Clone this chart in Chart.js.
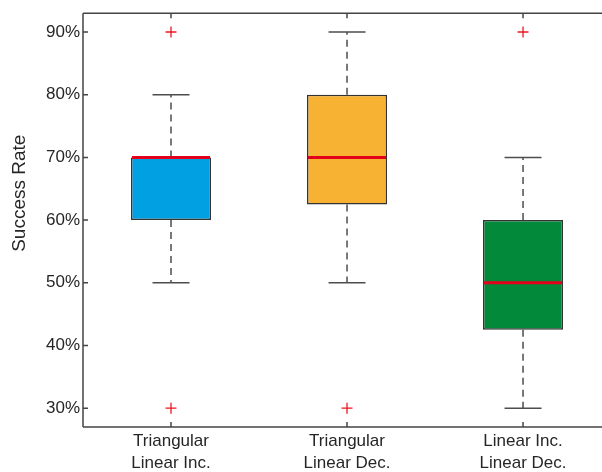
<!DOCTYPE html>
<html>
<head>
<meta charset="utf-8">
<script src="https://cdn.jsdelivr.net/npm/chart.js@4.4.0/dist/chart.umd.min.js"></script>
<style>
  html, body { margin: 0; padding: 0; background: #fff; }
  #wrap { width: 602px; height: 472px; }
</style>
</head>
<body>
<div id="wrap"><canvas id="boxChart" width="602" height="472"></canvas></div>
<script>
// box plot data (success rate in %)
const categories = [["Triangular", "Linear Inc."], ["Triangular", "Linear Dec."], ["Linear Inc.", "Linear Dec."]];
const whiskerLow = [50, 50, 30];
const q1 = [60, 62.5, 42.5];
const median = [70, 70, 50];
const q3 = [70, 80, 60];
const whiskerHigh = [80, 90, 70];
const outliers = [[90, 30], [30], [90]];
const boxColors = ["#00a0e2", "#f8b233", "#02893a"];
const yTicks = [30, 40, 50, 60, 70, 80, 90];

const axisColor = "#444444";
const textColor = "#262626";

let outlierPoints = [];
outliers.forEach((list, i) => {
  list.forEach((v) => outlierPoints.push({ x: i + 1, y: v }));
});

// whiskers, caps, medians and the axes frame
const boxExtras = {
  id: "boxExtras",
  beforeDatasetsDraw(chart) {
    const { ctx } = chart;
    const xs = chart.scales.x, ys = chart.scales.y;
    ctx.save();
    categories.forEach((c, i) => {
      const cx = xs.getPixelForValue(i + 1);
      const capL = xs.getPixelForValue(i + 1 - 0.105);
      const capR = xs.getPixelForValue(i + 1 + 0.105);
      ctx.strokeStyle = "#4d4d4d";
      ctx.lineWidth = 1.5;
      ctx.setLineDash([7, 5]);
      ctx.beginPath();
      ctx.moveTo(cx, ys.getPixelForValue(q3[i]));
      ctx.lineTo(cx, ys.getPixelForValue(whiskerHigh[i]));
      ctx.moveTo(cx, ys.getPixelForValue(q1[i]));
      ctx.lineTo(cx, ys.getPixelForValue(whiskerLow[i]));
      ctx.stroke();
      ctx.setLineDash([]);
      ctx.beginPath();
      ctx.moveTo(capL, ys.getPixelForValue(whiskerHigh[i]));
      ctx.lineTo(capR, ys.getPixelForValue(whiskerHigh[i]));
      ctx.moveTo(capL, ys.getPixelForValue(whiskerLow[i]));
      ctx.lineTo(capR, ys.getPixelForValue(whiskerLow[i]));
      ctx.stroke();
    });
    ctx.restore();
  },
  afterDatasetsDraw(chart) {
    const { ctx, chartArea } = chart;
    const xs = chart.scales.x, ys = chart.scales.y;
    const meta = chart.getDatasetMeta(0);
    ctx.save();
    // medians
    meta.data.forEach((bar, i) => {
      const y = ys.getPixelForValue(median[i]);
      ctx.strokeStyle = "#e2001a";
      ctx.lineWidth = 3;
      ctx.beginPath();
      ctx.moveTo(bar.x - bar.width / 2 + 1, y);
      ctx.lineTo(bar.x + bar.width / 2 - 1, y);
      ctx.stroke();
    });
    // frame (the right side of the axes box is cut off in the original)
    const right = chart.width;
    ctx.strokeStyle = axisColor;
    ctx.lineWidth = 1.5;
    ctx.beginPath();
    ctx.moveTo(chartArea.left, chartArea.top);
    ctx.lineTo(right, chartArea.top);
    ctx.moveTo(chartArea.left, chartArea.bottom);
    ctx.lineTo(right, chartArea.bottom);
    ctx.moveTo(chartArea.left, chartArea.top);
    ctx.lineTo(chartArea.left, chartArea.bottom);
    // inside tick marks
    yTicks.forEach((t) => {
      const y = ys.getPixelForValue(t);
      ctx.moveTo(chartArea.left, y);
      ctx.lineTo(chartArea.left + 5, y);
    });
    categories.forEach((c, i) => {
      const x = xs.getPixelForValue(i + 1);
      ctx.moveTo(x, chartArea.top);
      ctx.lineTo(x, chartArea.top + 5);
      ctx.moveTo(x, chartArea.bottom);
      ctx.lineTo(x, chartArea.bottom - 5);
    });
    ctx.stroke();
    // y axis title
    ctx.fillStyle = textColor;
    ctx.font = "19px 'Liberation Sans', Arial, sans-serif";
    ctx.textAlign = "center";
    ctx.textBaseline = "middle";
    ctx.translate(20, chartArea.top + (chartArea.bottom - chartArea.top) * 0.435);
    ctx.rotate(-Math.PI / 2);
    ctx.fillText("Success Rate", 0, 0);
    ctx.restore();
  },
};

let ctx = document.getElementById("boxChart").getContext("2d");
let boxChart = new Chart(ctx, {
  type: "bar",
  data: {
    datasets: [
      {
        type: "bar",
        data: categories.map((c, i) => ({ x: i + 1, y: [q1[i], q3[i]] })),
        backgroundColor: boxColors,
        borderColor: "#333333",
        borderWidth: 1.5,
        borderSkipped: false,
        barPercentage: 0.455,
        categoryPercentage: 1,
        grouped: false,
      },
      {
        type: "scatter",
        data: outlierPoints,
        pointStyle: "cross",
        radius: 5.5,
        borderColor: "#f0141e",
        borderWidth: 1.3,
        backgroundColor: "#f0141e",
      },
    ],
  },
  options: {
    responsive: false,
    animation: false,
    layout: { padding: { top: 11, right: 0, left: 0, bottom: 0 } },
    plugins: {
      legend: { display: false },
      tooltip: { enabled: false },
    },
    scales: {
      x: {
        type: "linear",
        offset: false,
        min: 0.5,
        max: 3.41,
        grid: { display: false, drawTicks: false, offset: false },
        border: { display: false },
        afterBuildTicks: (axis) => {
          axis.ticks = categories.map((c, i) => ({ value: i + 1 }));
        },
        afterFit: (axis) => {
          axis.height = 45;
        },
        ticks: {
          color: textColor,
          padding: 4,
          maxRotation: 0,
          autoSkip: false,
          font: { family: "'Liberation Sans', Arial, sans-serif", size: 17, lineHeight: 1.25 },
          callback: (value) => categories[value - 1],
        },
      },
      y: {
        min: 27,
        max: 93,
        grid: { display: false, drawTicks: false },
        border: { display: false },
        afterBuildTicks: (axis) => {
          axis.ticks = yTicks.map((v) => ({ value: v }));
        },
        afterFit: (axis) => {
          axis.width = 83;
        },
        ticks: {
          color: textColor,
          padding: 3,
          font: { family: "'Liberation Sans', Arial, sans-serif", size: 17 },
          callback: (value) => value + "%",
        },
      },
    },
  },
  plugins: [boxExtras],
});
</script>
</body>
</html>
